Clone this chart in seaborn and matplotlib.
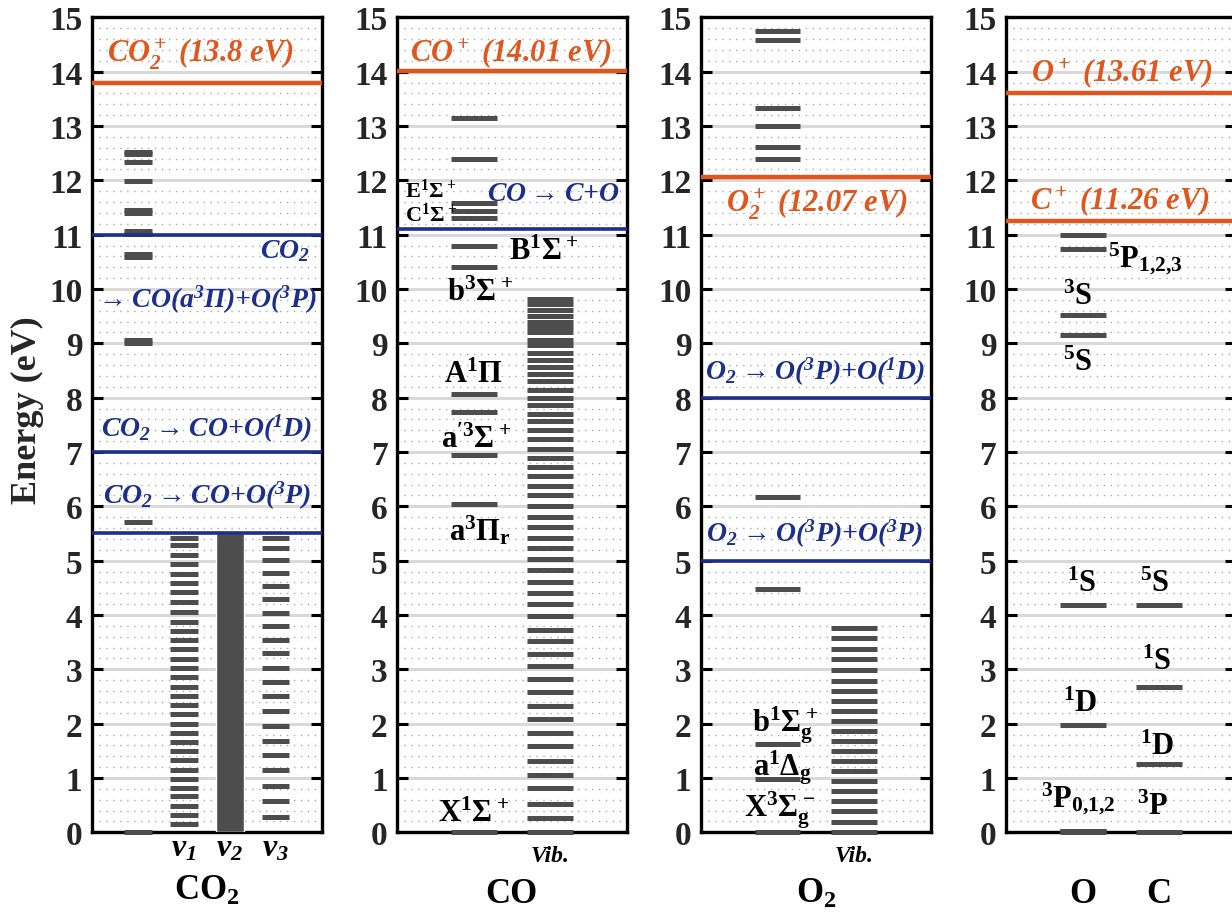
import matplotlib
matplotlib.use("Agg")
import matplotlib.pyplot as plt
from matplotlib.ticker import MultipleLocator
import seaborn as sns

# ---- energy levels (eV) ----
co2_elec = [0.0, 5.71, 9.0, 9.06, 10.59, 10.65, 11.01, 11.07, 11.39, 11.45,
            11.99, 12.33, 12.48, 12.53]
co2_nu1 = [0.16, 0.32, 0.49, 0.66, 0.82, 0.98, 1.15, 1.33, 1.50, 1.67, 1.83,
           2.00, 2.17, 2.34, 2.51, 2.68, 2.85, 3.02, 3.19, 3.37, 3.54, 3.71,
           3.88, 4.06, 4.24, 4.42, 4.59, 4.76, 4.93, 5.11, 5.28, 5.42]
co2_nu2 = [0.0, 5.5]  # dense ladder, drawn as a single band
co2_nu3 = [0.28, 0.58, 0.86, 1.14, 1.42, 1.69, 1.96, 2.24, 2.50, 2.77, 3.03,
           3.30, 3.54, 3.79, 4.04, 4.29, 4.53, 4.78, 5.01, 5.24, 5.41]

co_elec = [0.0, 6.04, 6.94, 7.73, 8.07, 10.41, 10.80, 11.30, 11.44, 11.59,
           12.39, 13.14]
co_vib = [0.0, 0.26, 0.53, 0.81, 1.06, 1.31, 1.59, 1.82, 2.09, 2.33, 2.58,
          2.82, 3.06, 3.28, 3.52, 3.73, 3.98, 4.20, 4.40, 4.60, 4.82, 5.03,
          5.23, 5.42, 5.62, 5.81, 6.00, 6.20, 6.38, 6.55, 6.73, 6.89, 7.06,
          7.24, 7.40, 7.57, 7.69, 7.86, 8.00, 8.15, 8.31, 8.43, 8.57, 8.70,
          8.82, 8.96, 9.07, 9.21, 9.30, 9.40, 9.50, 9.61, 9.72, 9.82]

o2_elec = [0.0, 0.98, 1.63, 4.47, 6.18, 12.40, 12.62, 13.00, 13.34, 14.59, 14.75]
o2_vib = [0.0, 0.19, 0.39, 0.57, 0.76, 0.94, 1.12, 1.31, 1.49, 1.68, 1.86,
          2.04, 2.23, 2.41, 2.60, 2.79, 2.98, 3.19, 3.38, 3.57, 3.76]

o_levels = [0.0, 0.02, 0.03, 1.97, 4.19, 9.15, 9.52, 10.74, 10.99]
c_levels = [0.0, 1.26, 2.68, 4.18]

# ionisation / dissociation thresholds (eV)
co2_ion, co_ion, o2_ion, o_ion, c_ion = 13.8, 14.01, 12.07, 13.61, 11.26
co2_diss = [5.5, 7.0, 11.0]
co_diss = [11.11]
o2_diss = [5.0, 8.0]

LEVEL = "#4d4d4d"
ORANGE = "#e0561c"
BLUE = "#1c2f8c"

sns.set_theme(style="ticks")
plt.rcParams["font.family"] = ["Liberation Serif", "DejaVu Serif"]
plt.rcParams["mathtext.fontset"] = "custom"
plt.rcParams["mathtext.default"] = "regular"
plt.rcParams["mathtext.fallback"] = "stix"

fig = plt.figure(figsize=(12.32, 9.2), dpi=100)
lefts = [0.0747, 0.3225, 0.569, 0.8166]
ncols = [4, 2, 2, 2]
axes = []
for left, n in zip(lefts, ncols):
    ax = fig.add_axes([left, 0.0942, 0.1863, 0.8859])
    ax.set_xlim(0, n + 1)
    ax.set_ylim(0, 15)
    ax.set_xticks([])
    ax.set_yticks(range(16))
    ax.set_yticklabels([str(i) for i in range(16)], fontweight="bold")
    ax.yaxis.set_minor_locator(MultipleLocator(0.2))
    ax.tick_params(axis="y", which="major", direction="in", length=8, width=2.2,
                   left=True, right=True, labelsize=24, pad=7, color="black")
    ax.tick_params(axis="y", which="minor", length=0)
    ax.set_axisbelow(True)
    ax.grid(which="major", axis="y", color="#d9d9d9", lw=2.2)
    ax.grid(which="minor", axis="y", color="#a8a8a8", lw=1.0, ls=(0, (1, 4)))
    for sp in ax.spines.values():
        sp.set_linewidth(2.4)
        sp.set_color("black")
        sp.set_visible(True)
    ax.set_facecolor("white")
    axes.append(ax)


def levels(ax, x, vals, lw=3.6):
    ax.hlines(vals, x - 0.3, x + 0.3, color=LEVEL, lw=lw, zorder=3, clip_on=False)


def line(ax, y, color, lw=2.6):
    ax.axhline(y, color=color, lw=lw, zorder=4)


def label(ax, x, y, s, size=22, color="black", style="normal", ha="center"):
    ax.text(x, y, s, fontsize=size, color=color, fontweight="bold",
            fontstyle=style, ha=ha, va="baseline", clip_on=False, zorder=6)


# ---- CO2 ----
ax = axes[0]
levels(ax, 1, co2_elec)
levels(ax, 2, co2_nu1)
ax.bar(3, co2_nu2[1] - co2_nu2[0], bottom=co2_nu2[0], width=0.6, color=LEVEL,
       zorder=3)
levels(ax, 4, co2_nu3)
line(ax, co2_ion, ORANGE, 3.2)
for d in co2_diss:
    line(ax, d, BLUE)
label(ax, 2.35, 14.18, "$CO_2^+$ (13.8 eV)", 22, ORANGE, "italic")
label(ax, 4.74, 10.59, "$CO_2$", 20, BLUE, "italic", ha="right")
label(ax, 2.46, 9.67, r"$\rightarrow$CO($a^3\Pi$)+O($^3P$)", 20, BLUE, "italic")
label(ax, 2.5, 7.30, r"$CO_2\rightarrow$CO+O($^1D$)", 20, BLUE, "italic")
label(ax, 2.5, 6.06, r"$CO_2\rightarrow$CO+O($^3P$)", 20, BLUE, "italic")
for i, nu in enumerate([r"$\nu_1$", r"$\nu_2$", r"$\nu_3$"]):
    label(ax, 2 + i, -0.43, nu, 23, style="italic")
label(ax, 2.5, -1.23, "$CO_2$", 25)

# ---- CO ----
ax = axes[1]
levels(ax, 1, co_elec)
levels(ax, 2, co_vib)
line(ax, co_ion, ORANGE, 3.2)
for d in co_diss:
    line(ax, d, BLUE)
label(ax, 1.48, 14.21, "$CO^+$ (14.01 eV)", 22, ORANGE, "italic")
label(ax, 2.04, 11.64, r"$CO\rightarrow$C+O", 20, BLUE, "italic")
label(ax, 0.44, 11.70, r"$E^1\Sigma^+$", 16)
label(ax, 0.44, 11.25, r"$C^1\Sigma^+$", 16)
label(ax, 1.91, 10.56, r"$B^1\Sigma^+$")
label(ax, 1.08, 9.79, r"$b^3\Sigma^+$")
label(ax, 1.0, 8.29, r"$A^1\Pi$")
label(ax, 1.03, 7.09, r"$a^{\prime3}\Sigma^+$")
label(ax, 1.08, 5.39, r"$a^3\Pi_r$")
label(ax, 0.99, 0.21, r"$X^1\Sigma^+$")
label(ax, 2.0, -0.52, "Vib.", 17, style="italic")
label(ax, 1.49, -1.28, "CO", 25)

# ---- O2 ----
ax = axes[2]
levels(ax, 1, o2_elec)
levels(ax, 2, o2_vib)
line(ax, o2_ion, ORANGE, 3.2)
for d in o2_diss:
    line(ax, d, BLUE)
label(ax, 1.51, 11.42, "$O_2^+$ (12.07 eV)", 22, ORANGE, "italic")
label(ax, 1.49, 8.35, r"$O_2\rightarrow$O($^3P$)+O($^1D$)", 20, BLUE, "italic")
label(ax, 1.49, 5.36, r"$O_2\rightarrow$O($^3P$)+O($^3P$)", 20, BLUE, "italic")
label(ax, 1.1, 1.87, r"$b^1\Sigma_g^+$")
label(ax, 1.06, 1.07, r"$a^1\Delta_g$")
label(ax, 1.03, 0.31, r"$X^3\Sigma_g^-$")
label(ax, 2.0, -0.52, "Vib.", 17, style="italic")
label(ax, 1.5, -1.28, "$O_2$", 25)

# ---- O and C atoms ----
ax = axes[3]
levels(ax, 1, o_levels)
levels(ax, 2, c_levels)
line(ax, o_ion, ORANGE, 3.2)
line(ax, c_ion, ORANGE, 3.2)
label(ax, 1.51, 13.84, "$O^+$ (13.61 eV)", 22, ORANGE, "italic")
label(ax, 1.49, 11.48, "$C^+$ (11.26 eV)", 22, ORANGE, "italic")
label(ax, 1.33, 10.40, "$^5P_{1{,}2{,}3}$", ha="left")
label(ax, 0.93, 9.73, "$^3S$")
label(ax, 0.94, 8.50, "$^5S$")
label(ax, 0.99, 4.45, "$^1S$")
label(ax, 1.94, 4.45, "$^5S$")
label(ax, 1.97, 3.01, "$^1S$")
label(ax, 0.97, 2.23, "$^1D$")
label(ax, 1.97, 1.44, "$^1D$")
label(ax, 0.94, 0.46, "$^3P_{0{,}1{,}2}$")
label(ax, 1.92, 0.34, "$^3P$")
label(ax, 1.0, -1.28, "O", 25)
label(ax, 2.0, -1.28, "C", 25)

fig.text(27 / 1232, 1 - 410 / 920, "Energy (eV)", rotation=90, fontsize=26,
         fontweight="bold", ha="center", va="center")

fig.savefig("out.png", dpi=100)
